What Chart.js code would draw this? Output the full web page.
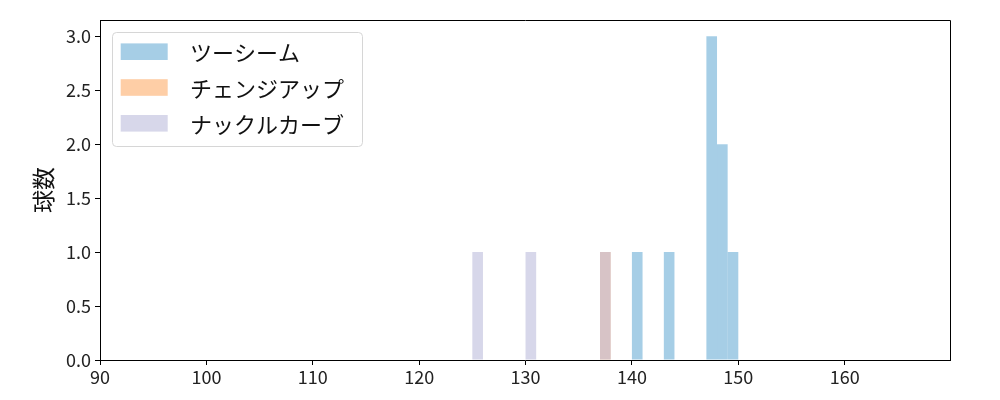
<!DOCTYPE html>
<html>
<head>
<meta charset="utf-8">
<script src="https://cdn.jsdelivr.net/npm/chart.js@4"></script>
<style>
 html, body { margin: 0; padding: 0; background: #fff; }
 #wrap { width: 1000px; height: 400px; }
</style>
</head>
<body>
<div id="wrap"><canvas id="pitchChart"></canvas></div>
<script>
// bin left edges (km/h) and counts, bin width 1
const binWidth = 1;
const twoSeamBins = [140, 143, 147, 148, 149];
const twoSeamCounts = [1, 1, 3, 2, 1];
const changeupBins = [137];
const changeupCounts = [1];
const knuckleCurveBins = [125, 130, 137];
const knuckleCurveCounts = [1, 1, 1];

const seriesNames = ["ツーシーム", "チェンジアップ", "ナックルカーブ"];
const xTicks = [90, 100, 110, 120, 130, 140, 150, 160];
const yTicks = [0, 0.5, 1, 1.5, 2, 2.5, 3];

const FONT = "'Noto Sans CJK JP', 'DejaVu Sans', sans-serif";

const toPoints = (bins, counts) =>
 bins.map((b, i) => ({ x: b + binWidth / 2, y: counts[i] }));

// matplotlib-style legend box in the upper left of the plot
const boxLegend = {
 id: "boxLegend",
 afterDraw(chart) {
  const { ctx, chartArea } = chart;
  const x0 = chartArea.left + 12;
  const y0 = chartArea.top + 12;
  const w = 250;
  const h = 114;
  ctx.save();
  ctx.beginPath();
  ctx.roundRect(x0 + 0.5, y0 + 0.5, w, h, 4);
  ctx.fillStyle = "rgba(255,255,255,0.8)";
  ctx.fill();
  ctx.strokeStyle = "#d6d6d6";
  ctx.lineWidth = 1;
  ctx.stroke();
  ctx.font = "22px " + FONT;
  ctx.textBaseline = "middle";
  chart.data.datasets.forEach((ds, i) => {
   const cy = y0 + 19.7 + i * 35.8;
   ctx.fillStyle = ds.backgroundColor;
   ctx.fillRect(x0 + 8.7, cy - 8.3, 47, 16.6);
   ctx.fillStyle = "#111";
   ctx.fillText(ds.label, x0 + 78, cy + 1);
  });
  ctx.restore();
 },
};

// top and right spines
const frame = {
 id: "frame",
 afterDraw(chart) {
  const { ctx, chartArea } = chart;
  ctx.save();
  ctx.strokeStyle = "#000";
  ctx.lineWidth = 1;
  ctx.beginPath();
  ctx.moveTo(Math.round(chartArea.left) + 0.5, Math.round(chartArea.top) + 0.5);
  ctx.lineTo(Math.round(chartArea.right) + 0.5, Math.round(chartArea.top) + 0.5);
  ctx.lineTo(Math.round(chartArea.right) + 0.5, Math.round(chartArea.bottom) + 0.5);
  ctx.stroke();
  ctx.restore();
 },
};

const barStyle = {
 grouped: false,
 barPercentage: 1,
 categoryPercentage: 1,
 borderWidth: 0,
 inflateAmount: 0,
};

new Chart(document.getElementById("pitchChart"), {
 type: "bar",
 data: {
  datasets: [
   {
    ...barStyle,
    label: seriesNames[0],
    data: toPoints(twoSeamBins, twoSeamCounts),
    backgroundColor: "rgba(107, 174, 214, 0.6)",
    order: 2,
   },
   {
    ...barStyle,
    label: seriesNames[1],
    data: toPoints(changeupBins, changeupCounts),
    backgroundColor: "rgba(253, 174, 107, 0.6)",
    order: 1,
   },
   {
    ...barStyle,
    label: seriesNames[2],
    data: toPoints(knuckleCurveBins, knuckleCurveCounts),
    backgroundColor: "rgba(188, 189, 220, 0.6)",
    order: 0,
   },
  ],
 },
 options: {
  responsive: true,
  maintainAspectRatio: false,
  animation: false,
  layout: { padding: { top: 20, right: 50, left: 0, bottom: 0 } },
  plugins: {
   legend: { display: false },
   tooltip: { enabled: false },
  },
  scales: {
   x: {
    type: "linear",
    min: 90,
    max: 169.9,
    offset: false,
    afterBuildTicks: (s) => { s.ticks = xTicks.map((v) => ({ value: v })); },
    afterFit: (s) => { s.height = 40; },
    ticks: {
     color: "#222",
     font: { family: FONT, size: 18 },
     padding: 1,
     maxRotation: 0,
    },
    grid: {
     offset: false,
     drawOnChartArea: false,
     tickLength: 5,
     color: "#000",
    },
    border: { color: "#000", width: 1 },
   },
   y: {
    min: 0,
    max: 3.15,
    afterBuildTicks: (s) => { s.ticks = yTicks.map((v) => ({ value: v })); },
    afterFit: (s) => { s.width = 100; },
    ticks: {
     color: "#222",
     font: { family: FONT, size: 18 },
     padding: 4,
     callback: (v) => v.toFixed(1),
    },
    grid: {
     drawOnChartArea: false,
     tickLength: 5,
     color: "#000",
    },
    border: { color: "#000", width: 1 },
    title: {
     display: true,
     text: "球数",
     color: "#111",
     font: { family: FONT, size: 23 },
     padding: { top: 29, bottom: 0 },
    },
   },
  },
 },
 plugins: [boxLegend, frame],
});
</script>
</body>
</html>
